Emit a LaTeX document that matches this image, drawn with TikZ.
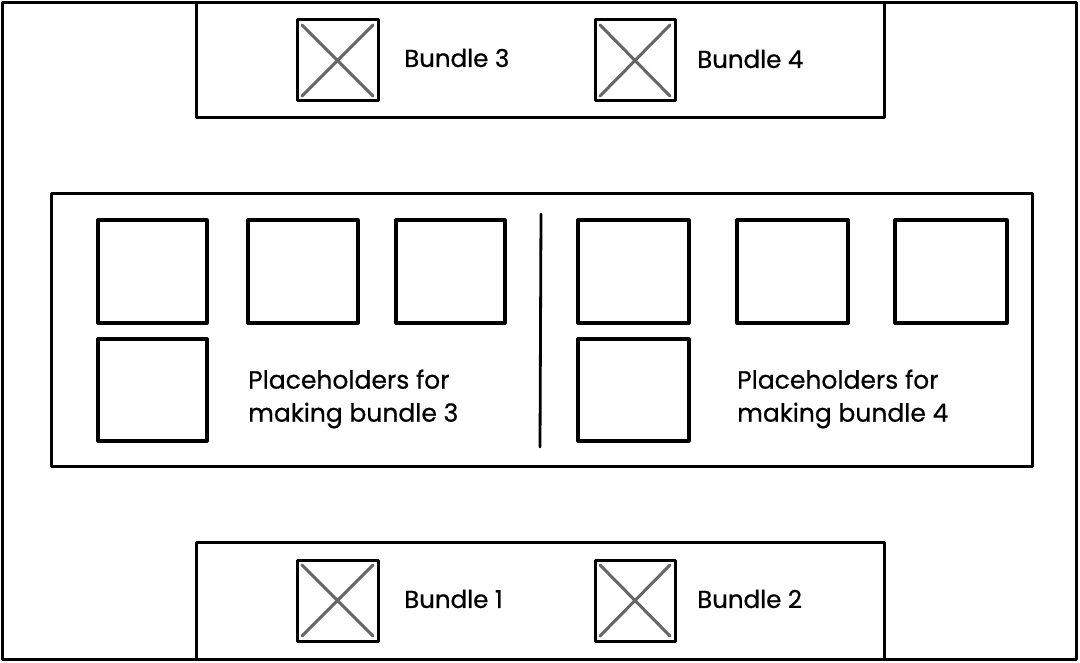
\documentclass[tikz,border=0pt]{standalone}
\usepackage{fontspec}
\setmainfont{Poppins}[FakeBold=0.6]
\begin{document}
\begin{tikzpicture}[x=1pt,y=-1pt,
  frame/.style={draw=black,line width=3pt,line join=round,inner sep=0pt},
  img/.style={frame,line width=3pt},
  cross/.style={draw=black!60,line width=3pt,line cap=round},
  slot/.style={frame,line width=3.2pt},
  lbl/.style={anchor=west,inner sep=0pt,font=\fontsize{24.5}{30}\selectfont},
  mlbl/.style={anchor=west,inner sep=0pt,align=left,font=\fontsize{25}{33}\selectfont}]
\useasboundingbox (0,0) rectangle (1080,663);
\fill[white] (0,0) rectangle (1080,663);
% outer frame
\draw[frame] (2,3) rectangle (1076,659);
% top bar
\draw[frame] (196,3) rectangle (884,118);
\draw[img] (297,20) rectangle (378,101);
\draw[cross] (302,25) -- (373,96) (373,25) -- (302,96);
\node[lbl] (b3) at (404,58) {Bundle 3};
\draw[img] (595,20) rectangle (675,101);
\draw[cross] (600,25) -- (670,96) (670,25) -- (600,96);
\node[lbl] (b4) at (697,59) {Bundle 4};
% middle panel
\draw[frame] (51,194) rectangle (1032,466);
\draw[line width=2.8pt,line cap=round] (541,214) -- (540,447);
\foreach \x/\w in {98/109,248/110,396/109,578/111,737/111,895/112}{
  \draw[slot] (\x,220) rectangle ++(\w,103);
}
\draw[slot] (98,339) rectangle (207,441);
\draw[slot] (578,339) rectangle (689,441);
\node[mlbl] (p3) at (248,399) {Placeholders for\\making bundle 3};
\node[mlbl] (p4) at (737,399) {Placeholders for\\making bundle 4};
% bottom bar
\draw[frame] (196,542) rectangle (884,659);
\draw[img] (297,560) rectangle (378,641);
\draw[cross] (302,565) -- (373,636) (373,565) -- (302,636);
\node[lbl] (b1) at (404,599) {Bundle 1};
\draw[img] (595,560) rectangle (675,641);
\draw[cross] (600,565) -- (670,636) (670,565) -- (600,636);
\node[lbl] (b2) at (697,599) {Bundle 2};
\end{tikzpicture}
\end{document}
